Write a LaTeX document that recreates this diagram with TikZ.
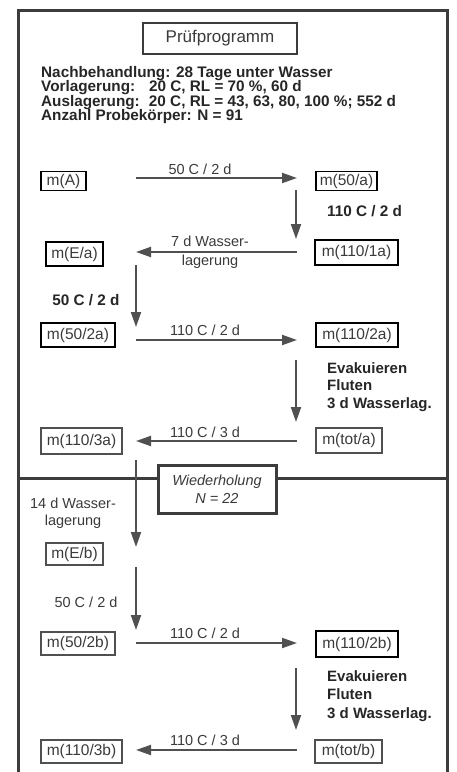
\documentclass[tikz,border=0pt]{standalone}
\usepackage{fontspec}
\setmainfont{Liberation Sans}
\usetikzlibrary{arrows.meta}
\definecolor{frameg}{HTML}{3C3C3C}
\definecolor{arrg}{HTML}{505050}
\definecolor{txtg}{HTML}{3A3A3A}
\tikzset{
  mbox/.style={draw=#1, line width=1.1pt, inner sep=0pt, text=txtg,
     font=\fontsize{15.5}{18}\selectfont},
  mbox/.default=black,
  flow/.style={draw=arrg, line width=2pt, -{Triangle[length=15pt,width=10pt]}},
  albl/.style={text=txtg, font=\fontsize{14.5}{17}\selectfont, inner sep=0pt},
  blbl/.style={text=black!85, font=\bfseries\fontsize{15.3}{17}\selectfont, inner sep=0pt},
}
\begin{document}
\begin{tikzpicture}[x=1pt,y=-1pt]
\useasboundingbox (0,0) rectangle (457,772);
% outer frame
\draw[frameg, line width=3pt] (18,775) -- (18,10) -- (447,10) -- (447,775);
\draw[frameg, line width=3pt] (18,478) -- (447,478);
% title
\node[draw=frameg, line width=1.2pt, minimum width=154pt, minimum height=31pt, inner sep=0pt,
  font=\fontsize{17}{20}\selectfont, text=txtg] (title) at (220,38.5) {Prüfprogramm};
% header
\node[anchor=west, blbl] (h1) at (41,73.5) {Nachbehandlung: 28 Tage unter Wasser};
\node[anchor=west, blbl] (h2) at (41,88) {Vorlagerung:\hspace{0.9em}20 C, RL = 70 \%, 60 d};
\node[anchor=west, blbl] (h3) at (41,102.5) {Auslagerung:\hspace{0.6em}20 C, RL = 43, 63, 80, 100 \%; 552 d};
\node[anchor=west, blbl] (h4) at (41,117) {Anzahl Probekörper: N = 91};
% boxes
\node[mbox, minimum width=45pt, minimum height=19pt] (mA) at (63.5,181) {m(A)};
\node[mbox, minimum width=61pt, minimum height=19pt] (m50a) at (346.5,181) {m(50/a)};
\node[mbox, minimum width=57pt, minimum height=24pt] (mEa) at (74.5,254) {m(E/a)};
\node[mbox, minimum width=83pt, minimum height=25pt] (m1101a) at (356.5,252.5) {m(110/1a)};
\node[mbox, minimum width=74pt, minimum height=24pt] (m502a) at (78,335) {m(50/2a)};
\node[mbox, minimum width=82pt, minimum height=24pt] (m1102a) at (357,335) {m(110/2a)};
\node[mbox=arrg, minimum width=81pt, minimum height=26pt] (m1103a) at (81.5,441) {m(110/3a)};
\node[mbox=arrg, minimum width=66pt, minimum height=25pt] (mtota) at (349,440.5) {m(tot/a)};
\node[mbox=arrg, minimum width=57pt, minimum height=22pt] (mEb) at (74.5,554) {m(E/b)};
\node[mbox=arrg, minimum width=74pt, minimum height=23pt] (m502b) at (78,643.5) {m(50/2b)};
\node[mbox, minimum width=82pt, minimum height=26pt] (m1102b) at (357,644) {m(110/2b)};
\node[mbox=arrg, minimum width=81pt, minimum height=23pt] (m1103b) at (81.5,751.5) {m(110/3b)};
\node[mbox=arrg, minimum width=67pt, minimum height=23pt] (mtotb) at (348.5,751.5) {m(tot/b)};
% arrow end points
\coordinate (a1s) at (136,178); \coordinate (a1e) at (297,178);
\coordinate (a2s) at (296,190); \coordinate (a2e) at (296,239);
\coordinate (a3s) at (297,252); \coordinate (a3e) at (136,252);
\coordinate (a4s) at (136,265); \coordinate (a4e) at (136,327);
\coordinate (a5s) at (136,340); \coordinate (a5e) at (297,340);
\coordinate (a6s) at (296,360); \coordinate (a6e) at (296,422);
\coordinate (a7s) at (297,441); \coordinate (a7e) at (136,441);
\coordinate (a8s) at (136,460); \coordinate (a8e) at (136,547);
\coordinate (a9s) at (136,567); \coordinate (a9e) at (136,630);
\coordinate (a10s) at (136,643); \coordinate (a10e) at (297,643);
\coordinate (a11s) at (296,668); \coordinate (a11e) at (296,730);
\coordinate (a12s) at (297,750); \coordinate (a12e) at (136,750);
% Wiederholung box (over divider)
\node[draw=frameg, line width=3pt, fill=white, minimum width=118pt, minimum height=48pt,
  inner sep=0pt, align=center, text=txtg,
  font=\itshape\fontsize{14.5}{18}\selectfont] (wdh) at (217,489) {Wiederholung\\N = 22};
% arrows
\draw[flow] (a1s) -- (a1e);
\draw[flow] (a2s) -- (a2e);
\draw[flow] (a3s) -- (a3e);
\draw[flow] (a4s) -- (a4e);
\draw[flow] (a5s) -- (a5e);
\draw[flow] (a6s) -- (a6e);
\draw[flow] (a7s) -- (a7e);
\draw[flow] (a8s) -- (a8e);
\draw[flow] (a9s) -- (a9e);
\draw[flow] (a10s) -- (a10e);
\draw[flow] (a11s) -- (a11e);
\draw[flow] (a12s) -- (a12e);
% labels
\node[albl] (l1) at (200,169) {50 C / 2 d};
\node[blbl, anchor=west] (l2) at (327,211) {110 C / 2 d};
\node[albl, align=center, font=\fontsize{14.5}{19}\selectfont] (l3) at (210,252.5) {7 d Wasser-\\lagerung};
\node[blbl] (l4) at (86,300) {50 C / 2 d};
\node[albl] (l5) at (205,330) {110 C / 2 d};
\node[blbl, anchor=north west, align=left, font=\bfseries\fontsize{15}{17.5}\selectfont] (l6) at (327,362) {Evakuieren\\Fluten\\3 d Wasserlag.};
\node[albl] (l7) at (205,432) {110 C / 3 d};
\node[albl, align=center, font=\fontsize{14.5}{17}\selectfont] (l8) at (73,513) {14 d Wasser-\\lagerung};
\node[albl] (l9) at (86,602) {50 C / 2 d};
\node[albl] (l10) at (205,633) {110 C / 2 d};
\node[blbl, anchor=north west, align=left, font=\bfseries\fontsize{15}{18.5}\selectfont] (l11) at (327,670) {Evakuieren\\Fluten\\3 d Wasserlag.};
\node[albl] (l12) at (205,740) {110 C / 3 d};
\end{tikzpicture}
\end{document}
